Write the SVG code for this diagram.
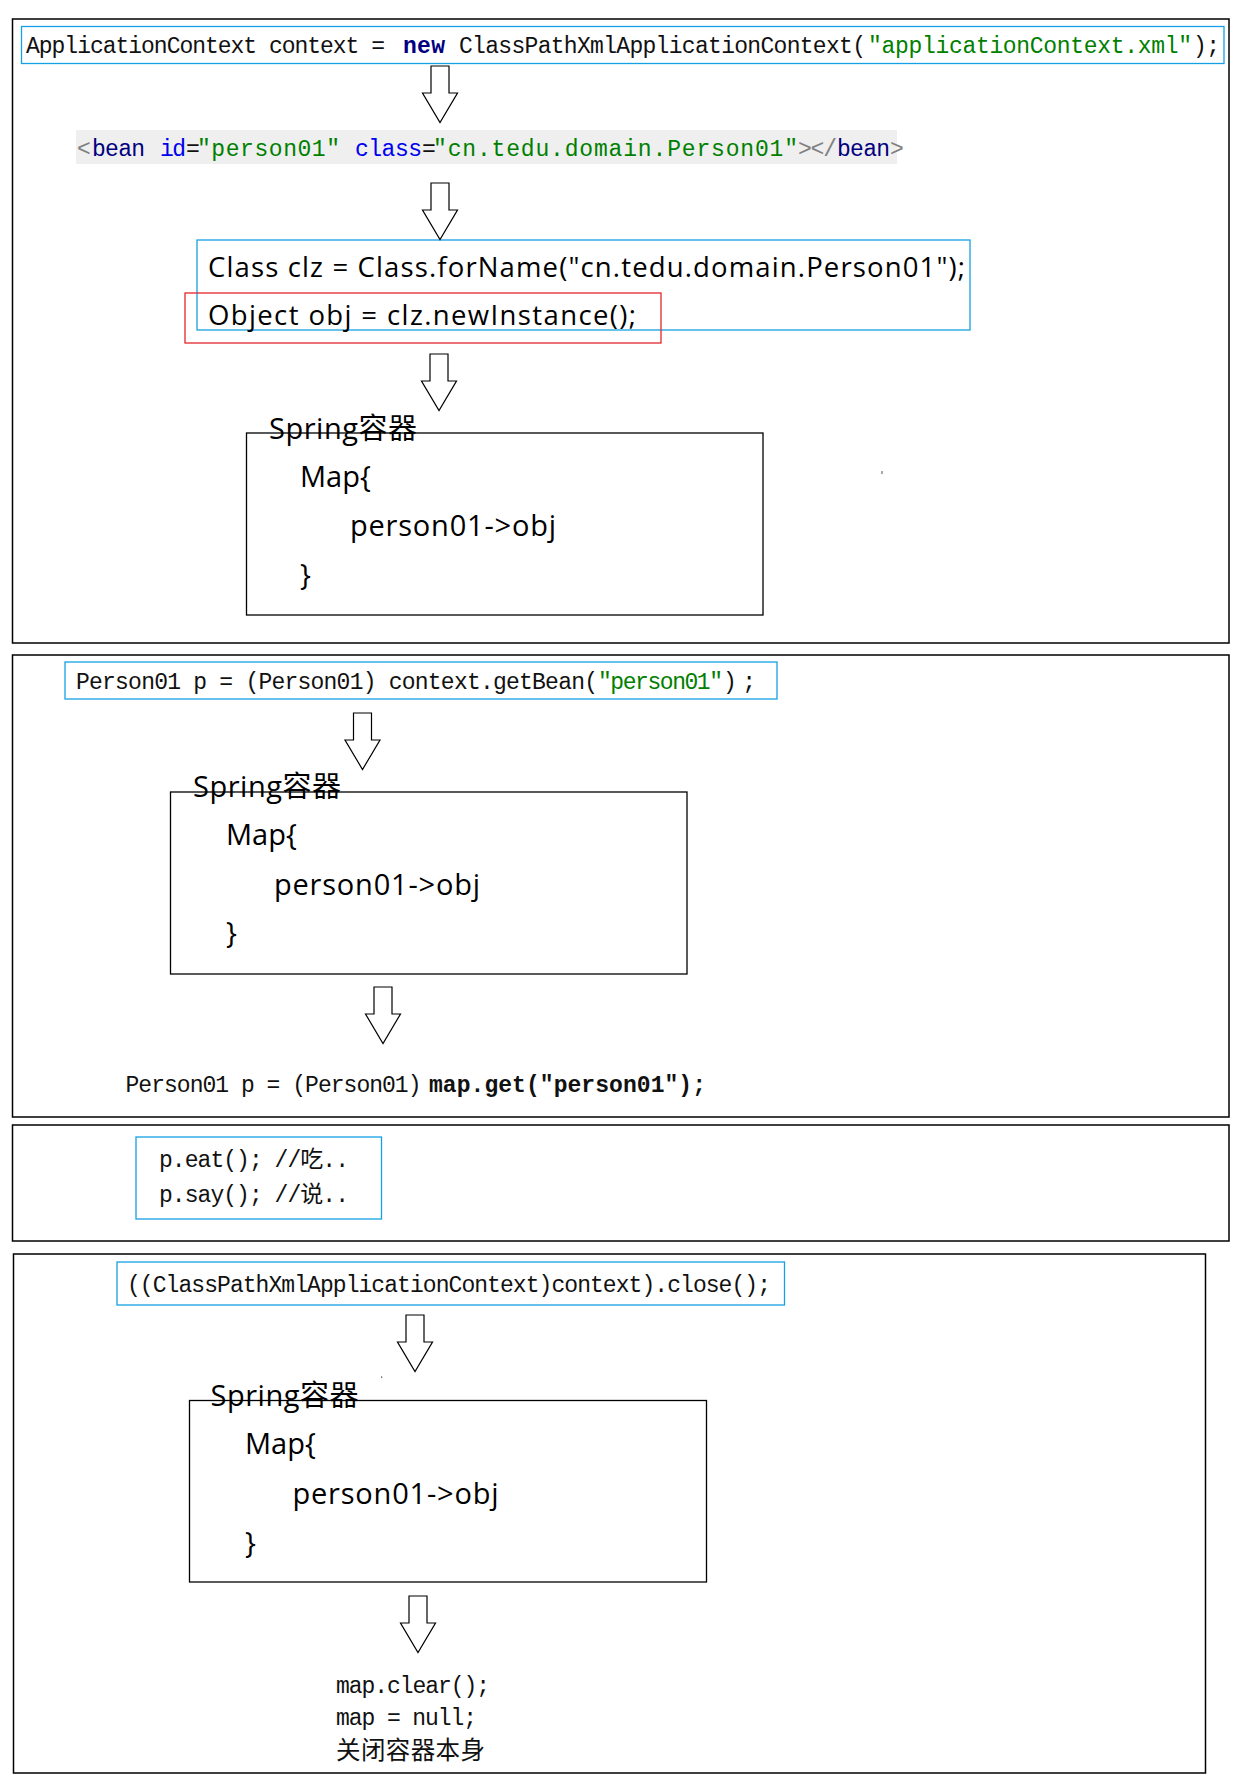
<svg xmlns="http://www.w3.org/2000/svg" xmlns:xlink="http://www.w3.org/1999/xlink" width="1246" height="1785" viewBox="0 0 1246 1785">
<style>
.frame{fill:none;stroke:#000;stroke-width:1.5}
.box{fill:none;stroke:#000;stroke-width:1.3}
.blue{fill:none;stroke:#14A0E4;stroke-width:1.3}
.red{fill:none;stroke:#E4262C;stroke-width:1.3}
.mono{font-family:"Liberation Mono","Noto Sans CJK SC",monospace;font-size:23px;fill:#111}
.sans{font-family:"Open Sans","Noto Sans CJK SC",sans-serif;font-size:27.5px;fill:#000}
.sp{font-family:"Open Sans","Noto Sans CJK SC",sans-serif;font-size:29px;fill:#000}
.g{fill:#008000}
.nv{fill:#000080}
.bl{fill:#0000F0}
.gr{fill:#808080}
.b{font-weight:bold}
.arrow{fill:#fff;stroke:#000;stroke-width:1.2;stroke-linejoin:miter}
</style>
<defs>
<path id="arr" class="arrow" d="M-9,0 H9 V27 H17.5 L0,56.5 L-17.5,27 H-9 Z"/>
</defs>
<rect width="1246" height="1785" fill="#fff"/>

<g id="frame1"><rect class="frame" x="12.5" y="19" width="1216.5" height="624"/></g>
<g id="frame2"><rect class="frame" x="12.5" y="655" width="1216.5" height="462"/></g>
<g id="frame3"><rect class="frame" x="12.5" y="1125" width="1216.5" height="116"/></g>
<g id="frame4"><rect class="frame" x="13.5" y="1254" width="1192" height="519"/></g>

<g id="n-appctx">
<rect class="blue" x="21.5" y="26.5" width="1202.5" height="37"/>
<text class="mono" x="26" y="53" textLength="359">ApplicationContext context =</text>
<text class="mono nv b" x="403" y="53" textLength="42">new</text>
<text class="mono" x="459" y="53" textLength="407">ClassPathXmlApplicationContext(</text>
<text class="mono g" x="868" y="53" textLength="324">"applicationContext.xml"</text>
<text class="mono" x="1193" y="53" textLength="27">);</text>
</g>

<g id="n-bean">
<rect x="76" y="130" width="821" height="34" fill="#EFEFEF"/>
<text class="mono gr" x="77" y="155.5" textLength="11">&lt;</text>
<text class="mono nv" x="92" y="155.5" textLength="53">bean</text>
<text class="mono bl" x="160" y="155.5" textLength="26">id</text>
<text class="mono" x="186" y="155.5" textLength="11">=</text>
<text class="mono g" x="197" y="155.5" textLength="143">"person01"</text>
<text class="mono bl" x="355" y="155.5" textLength="67">class</text>
<text class="mono" x="422" y="155.5" textLength="11">=</text>
<text class="mono g" x="433" y="155.5" textLength="365">"cn.tedu.domain.Person01"</text>
<text class="mono gr" x="798" y="155.5" textLength="39">&gt;&lt;/</text>
<text class="mono nv" x="837" y="155.5" textLength="53">bean</text>
<text class="mono gr" x="890" y="155.5" textLength="8">&gt;</text>
</g>

<g id="n-reflect">
<rect class="blue" x="197" y="240" width="773" height="90"/>
<rect class="red" x="185" y="293" width="476" height="50"/>
<text class="sans" x="208" y="277" textLength="757">Class clz = Class.forName("cn.tedu.domain.Person01");</text>
<text class="sans" x="208" y="325" textLength="428">Object obj = clz.newInstance();</text>
</g>

<g id="n-spring1">
<rect class="box" x="246.5" y="433" width="516.5" height="182"/>
<text class="sp" x="269" y="439" textLength="148">Spring容器</text>
<text class="sp" x="300" y="487">Map{</text>
<text class="sp" x="350" y="536" textLength="206">person01-&gt;obj</text>
<text class="sp" x="300" y="585">}</text>
</g>
<g id="dot1"><rect x="881.5" y="471" width="1" height="3" fill="#555"/></g>

<g id="n-getbean">
<rect class="blue" x="65" y="662" width="712" height="37"/>
<text class="mono" x="76" y="689" textLength="522">Person01 p = (Person01) context.getBean(</text>
<text class="mono g" x="598" y="689" textLength="125">"person01"</text>
<text class="mono" x="723" y="689" textLength="33">);</text>
</g>

<g id="n-spring2">
<rect class="box" x="170.5" y="792" width="516.5" height="182"/>
<text class="sp" x="193" y="797" textLength="148">Spring容器</text>
<text class="sp" x="226" y="845">Map{</text>
<text class="sp" x="274" y="895" textLength="206">person01-&gt;obj</text>
<text class="sp" x="226" y="943">}</text>
</g>

<g id="n-mapget">
<text class="mono" x="125.5" y="1092" textLength="296">Person01 p = (Person01)</text>
<text class="mono b" x="429" y="1092" textLength="277">map.get("person01");</text>
</g>

<g id="n-use">
<rect class="blue" x="136" y="1137" width="245.5" height="82"/>
<text class="mono" x="159" y="1167" textLength="190">p.eat(); //吃..</text>
<text class="mono" x="159" y="1202" textLength="190">p.say(); //说..</text>
</g>

<g id="n-close">
<rect class="blue" x="117" y="1262" width="667.5" height="43"/>
<text class="mono" x="127" y="1292" textLength="644">((ClassPathXmlApplicationContext)context).close();</text>
</g>
<g id="dot2"><rect x="381" y="1376.5" width="1.2" height="1.2" fill="#333"/></g>

<g id="n-spring3">
<rect class="box" x="189.5" y="1400.5" width="517" height="181.5"/>
<text class="sp" x="210.5" y="1406" textLength="148">Spring容器</text>
<text class="sp" x="245" y="1454">Map{</text>
<text class="sp" x="292.5" y="1504" textLength="206">person01-&gt;obj</text>
<text class="sp" x="245" y="1553">}</text>
</g>

<g id="n-clear">
<text class="mono" x="336" y="1693" textLength="154">map.clear();</text>
<text class="mono" x="336" y="1725" textLength="141">map = null;</text>
<text class="mono" x="336" y="1759" style="font-size:24.5px" textLength="149">关闭容器本身</text>
</g>

<g id="connectors">
<use xlink:href="#arr" href="#arr" transform="translate(440,66)"/>
<use xlink:href="#arr" href="#arr" transform="translate(440,183)"/>
<use xlink:href="#arr" href="#arr" transform="translate(439,354)"/>
<use xlink:href="#arr" href="#arr" transform="translate(362.5,713)"/>
<use xlink:href="#arr" href="#arr" transform="translate(383,987)"/>
<use xlink:href="#arr" href="#arr" transform="translate(415,1315)"/>
<use xlink:href="#arr" href="#arr" transform="translate(418,1596)"/>
</g>
</svg>
